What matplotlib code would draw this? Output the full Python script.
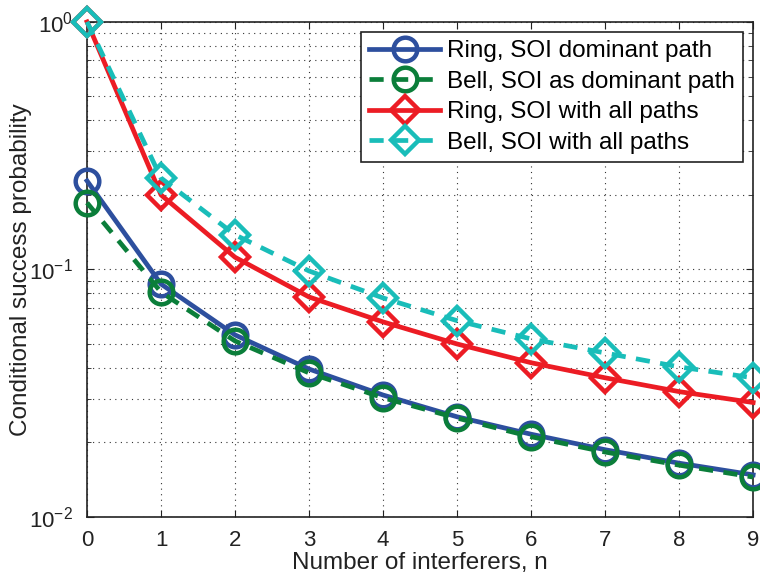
import matplotlib
matplotlib.use("Agg")
import matplotlib.pyplot as plt
from matplotlib.ticker import LogLocator, NullFormatter

plt.rcParams['font.family'] = ['Liberation Sans', 'DejaVu Sans']
plt.rcParams['mathtext.fontset'] = 'custom'
plt.rcParams['mathtext.rm'] = 'Liberation Sans'

n = [0, 1, 2, 3, 4, 5, 6, 7, 8, 9]
ring_dom = [0.228, 0.0873, 0.0544, 0.0396, 0.0311, 0.0254, 0.0216, 0.0187, 0.0165, 0.0148]
bell_dom = [0.186, 0.081, 0.0514, 0.0382, 0.0303, 0.0251, 0.0211, 0.0183, 0.0162, 0.0145]
ring_all = [1.0, 0.2, 0.112, 0.0774, 0.0614, 0.050, 0.042, 0.0365, 0.0321, 0.029]
bell_all = [1.0, 0.234, 0.138, 0.0986, 0.0767, 0.0621, 0.0524, 0.046, 0.0404, 0.0365]

labels = ["Ring, SOI dominant path", "Bell, SOI as dominant path",
          "Ring, SOI with all paths", "Bell, SOI with all paths"]

fig = plt.figure(figsize=(7.6, 5.76), dpi=100)
ax = fig.add_axes([0.1145, 0.1024, 0.8765, 0.8596])

lw = 3.4
kw = dict(lw=lw, mfc='none', mew=3.2, zorder=3, clip_on=False)
ax.plot(n, ring_dom, color='#2d4f9e', marker='o', ms=17, label=labels[0], **kw)
ax.plot(n, bell_dom, color='#0b7e3a', ls=(0, (3, 2.2)), marker='o', ms=17, label=labels[1], **kw)
ax.plot(n, ring_all, color='#ec1c24', marker='D', ms=14.5, label=labels[2], **kw)
ax.plot(n, bell_all, color='#19bdb9', ls=(0, (3, 2.2)), marker='D', ms=14.5, label=labels[3], **kw)

ax.set_yscale('log')
ax.set_xlim(0, 9)
ax.set_ylim(1e-2, 1)
ax.set_xticks(n)
ax.yaxis.set_major_locator(LogLocator(base=10, numticks=5))
ax.yaxis.set_minor_locator(LogLocator(base=10, subs=range(2, 10), numticks=20))
ax.yaxis.set_minor_formatter(NullFormatter())

ax.grid(True, which='major', ls=(0, (1, 4)), color='#333333', lw=0.8)
ax.grid(True, which='minor', axis='y', ls=(0, (1, 4)), color='#333333', lw=0.8)
ax.tick_params(which='both', direction='in', top=True, right=True, labelsize=16, colors='#222222')
ax.tick_params(which='major', length=5)
ax.tick_params(which='minor', length=3)
ax.tick_params(axis='x', pad=9)
ax.tick_params(axis='y', pad=10)
for s in ax.spines.values():
    s.set_linewidth(1.2)
    s.set_color('#222222')

ax.set_xlabel("Number of interferers, n", fontsize=17.5, color='#222222', labelpad=1)
ax.set_ylabel("Conditional success probability", fontsize=17.5, color='#222222', labelpad=-2)

leg = ax.legend(loc='upper right', fontsize=17.5, frameon=True, fancybox=False,
                edgecolor='#222222', framealpha=1, handlelength=2.9,
                borderaxespad=0.4, labelspacing=0.35, handletextpad=0.3, borderpad=0.35)
leg.get_frame().set_linewidth(1.2)
leg.set_zorder(5)

fig.savefig("out.png", dpi=100)
